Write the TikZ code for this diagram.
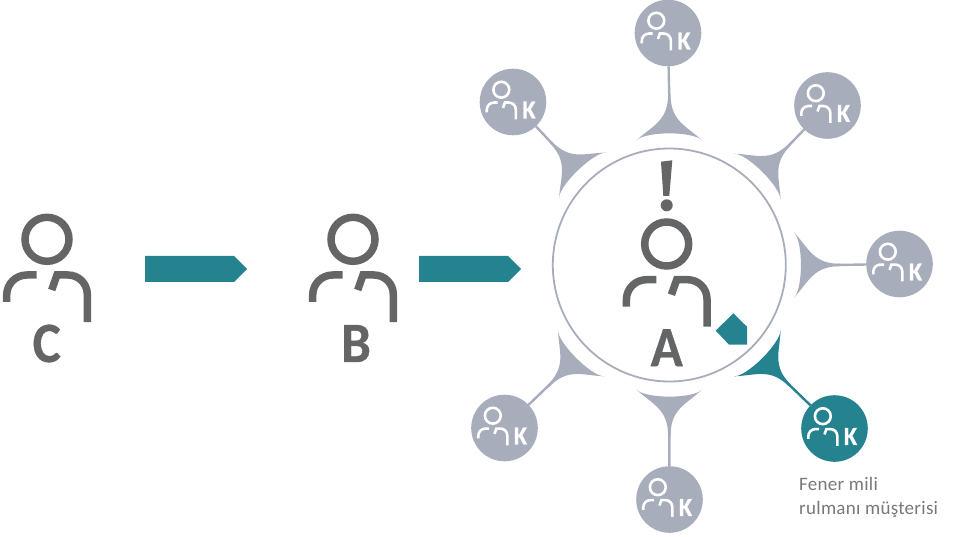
\documentclass[tikz,border=0pt]{standalone}
\usepackage{fontspec}
\setmainfont{Carlito}
\newfontfamily\letterfont[BoldFeatures={FakeBold=0.6, FakeStretch=0.93}]{Carlito}
\newfontfamily\captionfont[LetterSpace=1.5]{Carlito}
\usetikzlibrary{shapes.symbols}

\definecolor{tealc}{HTML}{25838F}
\definecolor{greyc}{HTML}{A8ADBB}
\definecolor{darkc}{HTML}{646567}
\definecolor{textc}{HTML}{77787A}

\tikzset{
    person/.pic = {
        \draw (0,0) circle [radius=22];
        \draw (-40.3,-62.7) -- (-40.3,-55.7) arc [start angle=180, end angle=90, radius=20] -- (-10.3,-35.7);
        \draw (4.7,-50.7) -- (10,-35.7) -- (21,-35.7) arc [start angle=90, end angle=0, radius=19.3] -- (40.3,-82.7);
    },
    bigperson/.style = {color=darkc, line width=7.5pt},
    smallperson/.style = {color=white, line width=2.6pt, scale=0.36},
    letter/.style = {text=darkc, font=\fontsize{57}{57}\letterfont\bfseries, inner sep=0pt},
    kletter/.style = {text=white, font=\fontsize{26}{26}\letterfont\bfseries, inner sep=0pt},
    blockarrow/.style = {signal, signal to=east, signal pointer angle=90, fill=tealc, draw=none,
        inner sep=0pt, outer sep=0pt, minimum height=26pt},
    satellite/.style = {circle, minimum size=66.6pt, inner sep=0pt, outer sep=0pt}
}

\begin{document}
\begin{tikzpicture}[x=1pt, y=1pt]
    \useasboundingbox (0,0) rectangle (953,-537);

    % the two people on the left
    \pic at (47,-239.3) [bigperson] {person};
    \node[letter] (C) at (46.7,-343.5) {C};
    \pic at (353,-239.3) [bigperson] {person};
    \node[letter] (B) at (356,-343.5) {B};

    \node[blockarrow, minimum width=102pt] (CtoB) at (189.5,-269) {};
    \node[blockarrow, minimum width=102pt] (BtoA) at (463.5,-269) {};

    % centre
    \node[circle, draw=greyc, line width=1.8pt, minimum size=233pt, inner sep=0pt] (hub) at (669.3,-265) {};
    \pic at (666.7,-244) [bigperson] {person};
    \node[letter] (A) at (666.7,-347.7) {A};
    \fill[darkc] (661,-161.7) -- (672.3,-160.3) -- (669.3,-196) -- (663.3,-196) -- cycle;
    \fill[darkc] (666.7,-205.3) circle [radius=6];
    \fill[tealc] (715.7,-330.7) -- (733.3,-313.3) -- (747,-326.7) -- (747,-344.7) -- (729,-344.7) -- cycle;

    % customers round the centre
    \foreach \name/\posx/\posy/\ang/\col in {
        kone/668/-33/90/greyc,
        ktwo/827.5/-105.5/45/greyc,
        kthree/899.5/-264/0/greyc,
        kfour/834.5/-428.5/-45/tealc,
        kfive/669.5/-499.5/-90/greyc,
        ksix/504.5/-428/-135/greyc,
        kseven/513/-102/134/greyc%
    } {
        \node[satellite, fill=\col] (\name) at (\posx,\posy) {};
        \begin{scope}[shift={(hub.center)}, rotate=\ang]
            \fill[\col] (124.5,33) .. controls (134,24) and (134,-24) .. (124.5,-33)
                .. controls (140,-16) and (144,-1.2) .. (171,-1.2)
                -- (171,1.2)
                .. controls (144,1.2) and (140,16) .. (124.5,33) -- cycle;
            \coordinate (\name foot) at (165,0);
        \end{scope}
        \draw[\col, line width=2.4pt] (\name foot) -- (\name);
        \pic at ([shift={(-11.7,12.3)}]\name.center) [smallperson] {person};
        \node[kletter] (\name K) at ([shift={(16,-8)}]\name.center) {K};
    }

    \node[align=left, anchor=north west, inner sep=0pt, text=textc,
        font=\fontsize{19}{24}\captionfont] (caption) at (799,-477) {Fener mili\\rulmanı müşterisi};
\end{tikzpicture}
\end{document}
